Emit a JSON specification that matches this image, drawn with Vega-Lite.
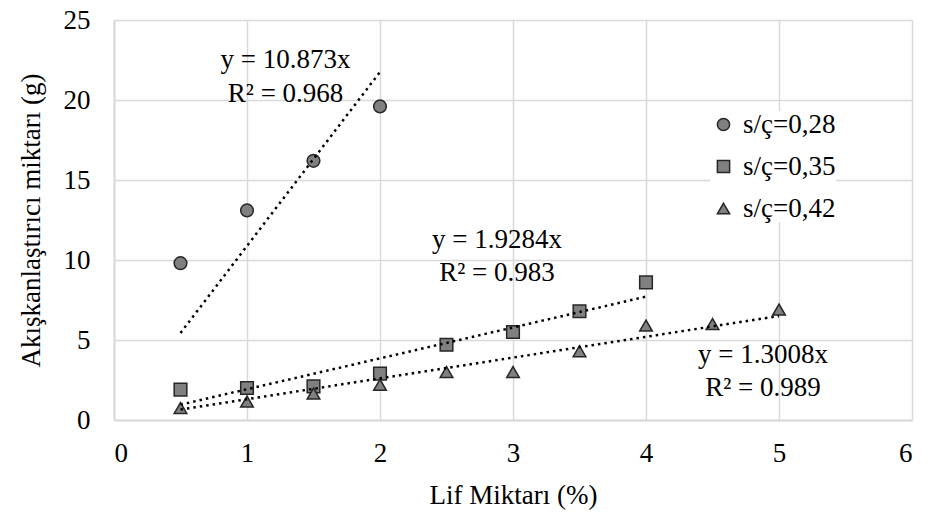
{
  "$schema": "https://vega.github.io/schema/vega-lite/v6.json",
  "width": 798,
  "height": 400,
  "autosize": "none",
  "padding": {"left": 114, "top": 20, "right": 20, "bottom": 93},
  "background": "white",
  "config": {
    "font": "'Times New Roman', 'Liberation Serif', serif",
    "view": {"stroke": null},
    "axis": {
      "labelFont": "'Times New Roman', 'Liberation Serif', serif",
      "titleFont": "'Times New Roman', 'Liberation Serif', serif",
      "labelFontSize": 27,
      "titleFontSize": 27,
      "labelColor": "#000000",
      "titleColor": "#000000",
      "titleFontWeight": "normal",
      "gridColor": "#d9d9d9",
      "gridWidth": 1.5,
      "domainColor": "#d9d9d9",
      "domainWidth": 2,
      "ticks": false
    },
    "legend": {
      "labelFont": "'Times New Roman', 'Liberation Serif', serif",
      "labelFontSize": 27,
      "labelColor": "#000000"
    }
  },
  "datasets": {
    "points": [
      {"lif": 0.5, "value": 9.8, "series": "s/ç=0,28"},
      {"lif": 1.0, "value": 13.1, "series": "s/ç=0,28"},
      {"lif": 1.5, "value": 16.2, "series": "s/ç=0,28"},
      {"lif": 2.0, "value": 19.6, "series": "s/ç=0,28"},
      {"lif": 0.5, "value": 1.9, "series": "s/ç=0,35"},
      {"lif": 1.0, "value": 2.0, "series": "s/ç=0,35"},
      {"lif": 1.5, "value": 2.1, "series": "s/ç=0,35"},
      {"lif": 2.0, "value": 2.9, "series": "s/ç=0,35"},
      {"lif": 2.5, "value": 4.7, "series": "s/ç=0,35"},
      {"lif": 3.0, "value": 5.5, "series": "s/ç=0,35"},
      {"lif": 3.5, "value": 6.8, "series": "s/ç=0,35"},
      {"lif": 4.0, "value": 8.6, "series": "s/ç=0,35"},
      {"lif": 0.5, "value": 0.75, "series": "s/ç=0,42"},
      {"lif": 1.0, "value": 1.15, "series": "s/ç=0,42"},
      {"lif": 1.5, "value": 1.65, "series": "s/ç=0,42"},
      {"lif": 2.0, "value": 2.2, "series": "s/ç=0,42"},
      {"lif": 2.5, "value": 3.0, "series": "s/ç=0,42"},
      {"lif": 3.0, "value": 3.0, "series": "s/ç=0,42"},
      {"lif": 3.5, "value": 4.3, "series": "s/ç=0,42"},
      {"lif": 4.0, "value": 5.9, "series": "s/ç=0,42"},
      {"lif": 4.5, "value": 6.0, "series": "s/ç=0,42"},
      {"lif": 5.0, "value": 6.9, "series": "s/ç=0,42"}
    ],
    "trend": [
      {"lif": 0.5, "value": 5.44, "series": "s/ç=0,28"},
      {"lif": 2.0, "value": 21.75, "series": "s/ç=0,28"},
      {"lif": 0.5, "value": 0.96, "series": "s/ç=0,35"},
      {"lif": 4.0, "value": 7.71, "series": "s/ç=0,35"},
      {"lif": 0.5, "value": 0.65, "series": "s/ç=0,42"},
      {"lif": 5.0, "value": 6.5, "series": "s/ç=0,42"}
    ],
    "labels": [
      {"lif": 1.29, "value": 22.5, "text": "y = 10.873x"},
      {"lif": 1.29, "value": 20.4, "text": "R² = 0.968"},
      {"lif": 2.88, "value": 11.25, "text": "y = 1.9284x"},
      {"lif": 2.88, "value": 9.2, "text": "R² = 0.983"},
      {"lif": 4.88, "value": 4.06, "text": "y = 1.3008x"},
      {"lif": 4.88, "value": 2.0, "text": "R² = 0.989"}
    ]
  },
  "layer": [
    {
      "data": {"name": "points"},
      "mark": {"type": "point", "filled": true, "fill": "#808080", "stroke": "#262626", "strokeWidth": 1.5, "opacity": 1, "size": 160},
      "encoding": {
        "x": {
          "field": "lif", "type": "quantitative",
          "scale": {"domain": [0, 6], "nice": false},
          "axis": {"values": [0, 1, 2, 3, 4, 5, 6], "format": "d", "title": "Lif Miktarı (%)", "labelPadding": 20, "titlePadding": 16, "grid": true}
        },
        "y": {
          "field": "value", "type": "quantitative",
          "scale": {"domain": [0, 25], "nice": false},
          "axis": {"values": [0, 5, 10, 15, 20, 25], "format": "d", "title": "Akışkanlaştırıcı miktarı (g)", "labelPadding": 24, "titlePadding": 18, "grid": true}
        },
        "shape": {
          "field": "series", "type": "nominal",
          "scale": {"domain": ["s/ç=0,28", "s/ç=0,35", "s/ç=0,42"], "range": ["circle", "square", "triangle-up"]},
          "legend": {
            "title": null,
            "orient": "none",
            "legendX": 596,
            "legendY": 91,
            "symbolSize": 150,
            "rowPadding": 14,
            "labelOffset": 6,
            "fillColor": "white",
            "encode": {
              "symbols": {
                "update": {
                  "fill": {"value": "#808080"},
                  "stroke": {"value": "#262626"},
                  "strokeWidth": {"value": 1.5},
                  "opacity": {"value": 1}
                }
              }
            }
          }
        }
      }
    },
    {
      "data": {"name": "trend"},
      "mark": {"type": "line", "color": "#000000", "strokeWidth": 2.5, "strokeDash": [2.5, 4]},
      "encoding": {
        "x": {"field": "lif", "type": "quantitative"},
        "y": {"field": "value", "type": "quantitative"},
        "detail": {"field": "series"}
      }
    },
    {
      "data": {"name": "labels"},
      "mark": {"type": "text", "font": "'Times New Roman', 'Liberation Serif', serif", "fontSize": 27, "color": "#000000", "align": "center", "baseline": "middle"},
      "encoding": {
        "x": {"field": "lif", "type": "quantitative"},
        "y": {"field": "value", "type": "quantitative"},
        "text": {"field": "text"}
      }
    }
  ]
}
